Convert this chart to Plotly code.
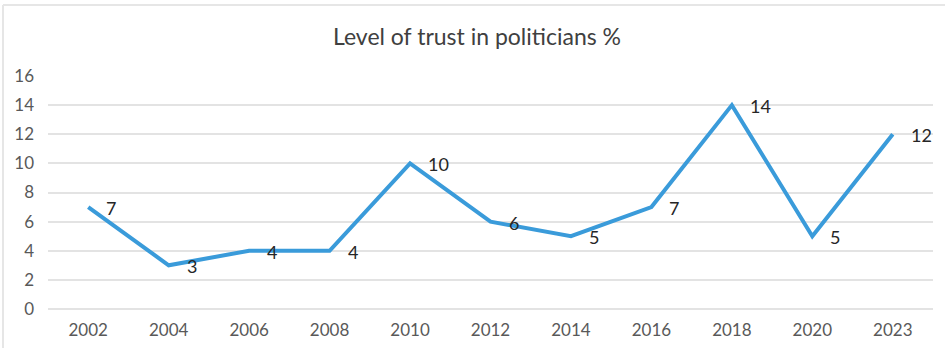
import plotly.graph_objects as go

# Survey years and share of respondents who trust politicians (%)
years = ["2002", "2004", "2006", "2008", "2010", "2012", "2014", "2016", "2018", "2020", "2023"]
trust = [7, 3, 4, 4, 10, 6, 5, 7, 14, 5, 12]
y_ticks = [0, 2, 4, 6, 8, 10, 12, 14, 16]

W, H = 945, 348
L, R, T, B = 48, 12, 76, 39
FONT = "Lato, Open Sans, sans-serif"
GRID = "#E3E3E3"

fig = go.Figure(
    go.Scatter(
        x=years,
        y=trust,
        mode="lines",
        line=dict(color="#3A9BDA", width=4),
        hoverinfo="skip",
    )
)

# value labels sit just to the right of each point (category index on x)
annotations = [
    dict(
        x=i, y=v, xref="x", yref="y",
        text=str(v), showarrow=False,
        xanchor="left", yanchor="middle",
        xshift=16, yshift=-1,
        font=dict(family=FONT, size=18, color="#262626"),
    )
    for i, v in enumerate(trust)
]

pw = W - L - R
ph = H - T - B


def px_x(px):
    return (px - L) / pw


def px_y(py):
    return (H - B - py) / ph


fig.update_layout(
    width=W,
    height=H,
    margin=dict(l=L, r=R, t=T, b=B, autoexpand=False),
    paper_bgcolor="white",
    plot_bgcolor="white",
    showlegend=False,
    annotations=annotations,
    title=dict(
        text="Level of trust in politicians %",
        x=477 / W,
        xref="container",
        xanchor="center",
        y=1 - 37 / H,
        yanchor="middle",
        font=dict(family=FONT, size=23, color="#404040"),
    ),
    xaxis=dict(
        type="category",
        range=[-0.5, len(years) - 0.5],
        showgrid=False,
        showline=False,
        ticks="",
        automargin=False,
        ticklabelstandoff=9,
        tickfont=dict(family=FONT, size=17, color="#595959"),
        fixedrange=True,
    ),
    yaxis=dict(
        range=[0, 16],
        tickvals=y_ticks,
        showgrid=True,
        gridcolor=GRID,
        gridwidth=1.5,
        zeroline=True,
        zerolinecolor=GRID,
        zerolinewidth=1.5,
        showline=False,
        ticks="",
        automargin=False,
        ticklabelstandoff=13,
        tickfont=dict(family=FONT, size=17, color="#595959"),
        fixedrange=True,
    ),
    shapes=[
        # chart-area frame (top and left edges)
        dict(type="line", xref="paper", yref="paper",
             x0=px_x(3), x1=px_x(W + 5), y0=px_y(5), y1=px_y(5),
             line=dict(color="#E6E6E6", width=2)),
        dict(type="line", xref="paper", yref="paper",
             x0=px_x(3), x1=px_x(3), y0=px_y(5), y1=px_y(H + 5),
             line=dict(color="#E6E6E6", width=2)),
    ],
)

fig.write_html("out.html")
